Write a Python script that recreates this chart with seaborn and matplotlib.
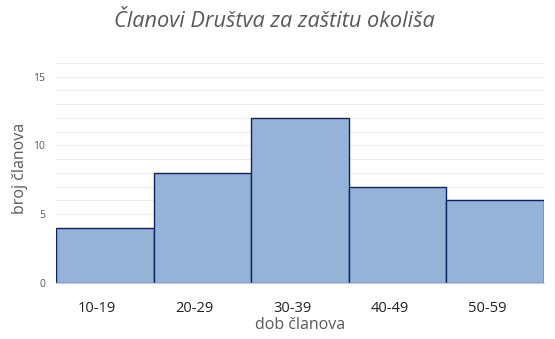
import matplotlib
matplotlib.use("Agg")
import matplotlib.pyplot as plt
import seaborn as sns
import pandas as pd
import numpy as np
from matplotlib.ticker import MultipleLocator

categories = ["10-19", "20-29", "30-39", "40-49", "50-59"]
counts = [4, 8, 12, 7, 6]

df = pd.DataFrame({"dob": categories, "broj": counts})

sns.set_theme(style="white")
plt.rcParams['font.family'] = ['Open Sans', 'DejaVu Sans']

fig = plt.figure(figsize=(5.55, 3.39), dpi=100)
ax = fig.add_axes([0.1009, 0.1652, 0.8793, 0.649])

sns.barplot(data=df, x="dob", y="broj", ax=ax, width=1.0, color="#95B3D7",
            saturation=1, edgecolor="#0B2265", linewidth=1.0, zorder=3)

ax.set_xlim(-0.5, 4.5)
ax.set_ylim(0, 16)
ax.yaxis.set_major_locator(MultipleLocator(5))
ax.yaxis.set_minor_locator(MultipleLocator(1))
ax.grid(True, which="both", axis="y", color="#EDEDED", linewidth=0.8, zorder=0)
ax.set_axisbelow(True)

for s in ["top", "right", "left"]:
    ax.spines[s].set_visible(False)
ax.spines["bottom"].set_color("#D0D0D0")
ax.spines["bottom"].set_linewidth(1.0)
ax.spines["bottom"].set_zorder(4)

ax.tick_params(axis="y", which="both", length=0, labelsize=7.5, labelcolor="#595959", pad=8)
ax.tick_params(axis="x", length=0, labelsize=10.5, labelcolor="#222222", pad=13)
ax.set_xticks(np.arange(len(categories)) - 0.08)
ax.set_xticklabels(categories)

ax.set_xlabel("dob članova", fontsize=11.5, color="#595959")
ax.xaxis.set_label_coords(0.5, -0.155)
ax.set_ylabel("broj članova", fontsize=11.5, color="#595959")
ax.yaxis.set_label_coords(-0.058, 0.52)

fig.text(0.494, 0.938, "Članovi Društva za zaštitu okoliša", ha="center", va="center",
         fontsize=15.7, style="italic", color="#595959")

fig.savefig("out.png", dpi=100)
